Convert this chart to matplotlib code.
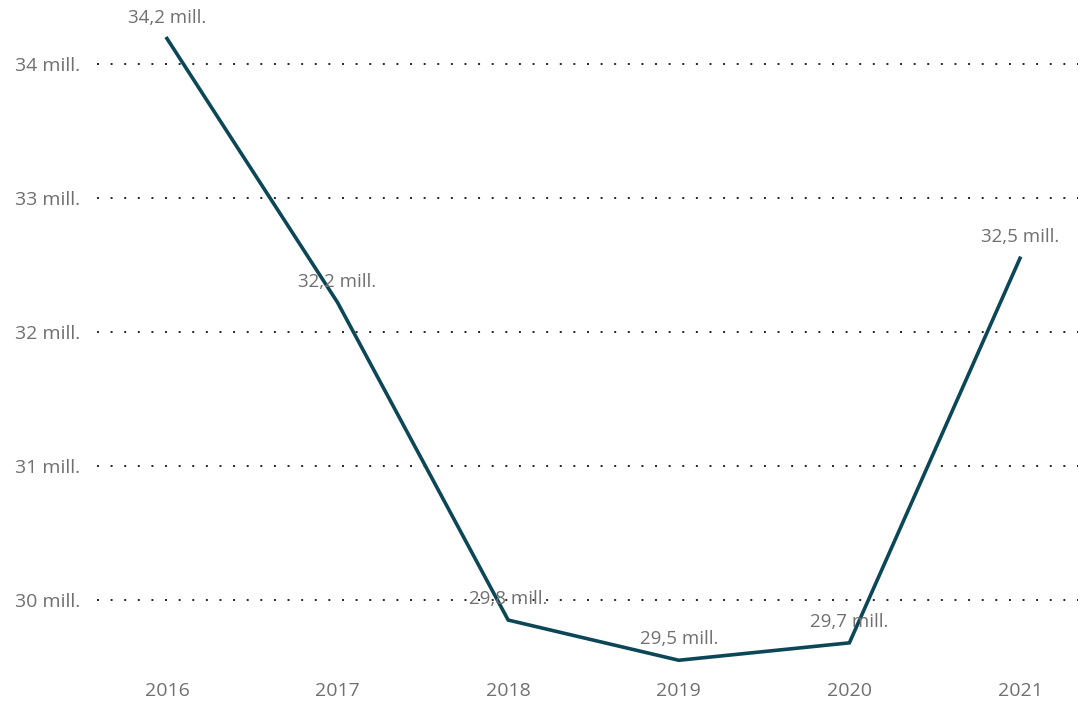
import matplotlib
matplotlib.use("Agg")
import matplotlib.pyplot as plt

years = ["2016", "2017", "2018", "2019", "2020", "2021"]
values = [34.19, 32.22, 29.85, 29.55, 29.68, 32.55]
labels = ["34,2 mill.", "32,2 mill.", "29,8 mill.", "29,5 mill.", "29,7 mill.", "32,5 mill."]
yticks = [30, 31, 32, 33, 34]
yticklabels = ["30 mill.", "31 mill.", "32 mill.", "33 mill.", "34 mill."]

plt.rcParams['font.family'] = ['Open Sans', 'DejaVu Sans']

fig = plt.figure(figsize=(10.82, 7.02), dpi=100)
ax = fig.add_axes([97/1082, 27/702, (1078-97)/1082, (682-27)/702])

x = list(range(len(years)))
ax.plot(x, values, color="#0B4757", linewidth=2.6, solid_joinstyle="miter", zorder=3)

for xi, v, lab in zip(x, values, labels):
    ax.annotate(lab, (xi, v), xytext=(0, 15), textcoords="offset points",
                ha="center", va="center", fontsize=13.5, color="#707070", zorder=4)

ax.set_xlim(-0.41, 5.34)
ax.set_ylim(29.44, 34.328)
ax.set_yticks(yticks)
ax.set_yticklabels(yticklabels)
ax.set_xticks(x)
ax.set_xticklabels(years)
ax.tick_params(axis="both", length=0, labelsize=14, labelcolor="#707070")
ax.tick_params(axis="y", pad=12)
ax.tick_params(axis="x", pad=5)
for s in ax.spines.values():
    s.set_visible(False)
ax.yaxis.grid(True, linestyle=(0, (1, 6)), color="#222222", linewidth=1.4)
ax.set_axisbelow(True)

fig.savefig("out.png", dpi=100)
